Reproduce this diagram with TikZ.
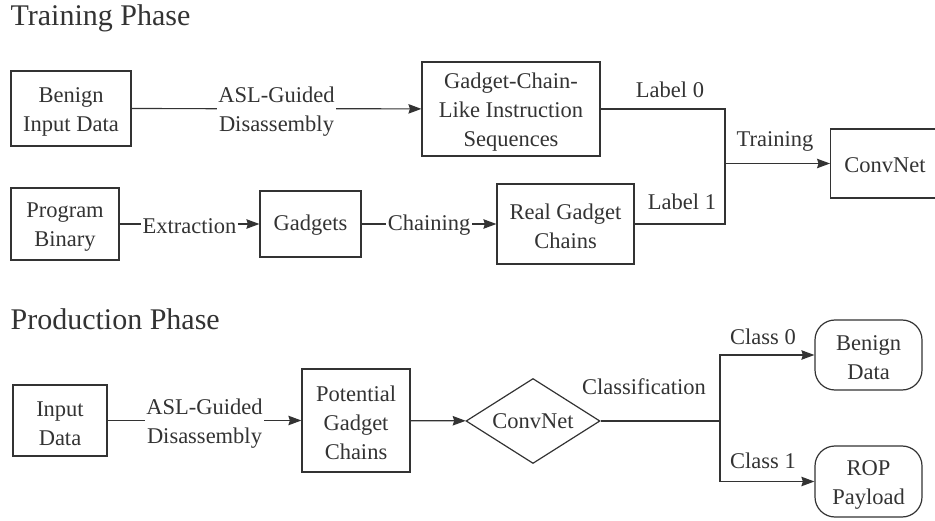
\documentclass[tikz,border=0pt]{standalone}
\usepackage{fontspec}
\setmainfont{Liberation Serif}
\newfontfamily\timesfam{Liberation Serif}
\usetikzlibrary{arrows.meta,shapes.geometric}
\definecolor{inkgrey}{HTML}{333333}
\definecolor{textgrey}{HTML}{333333}
\newcommand{\boxstrut}{\rule{0pt}{21pt}}
\begin{document}
\begin{tikzpicture}[x=1pt, y=-1pt, line width=1.2pt, draw=inkgrey, text=textgrey,
	font=\timesfam\fontsize{22.5}{29}\selectfont,
	box/.style={draw, align=center, inner sep=0pt, execute at begin node={\rule{0pt}{18.5pt}}},
	roundbox/.style={box, rounded corners=20pt},
	decision/.style={draw, diamond, aspect=1.6, inner sep=0pt, minimum width=134pt, minimum height=85pt},
	lbl/.style={fill=white, inner sep=1.5pt, align=center, execute at begin node={\rule{0pt}{18.5pt}}},
	arr/.style={-{Stealth[length=13pt, width=9.5pt, inset=1.5pt]}},
	phase/.style={anchor=base west, inner sep=0pt, font=\timesfam\fontsize{30}{36}\selectfont}]
	\useasboundingbox (0,0) rectangle (935,521);
	% training phase
	\node [phase] (ttl1) at (10,26) {Training Phase};
	\node [box, minimum width=120pt, minimum height=75pt] (benign) at (71,108.5) {\boxstrut Benign\\Input Data};
	\node [box, minimum width=178pt, minimum height=94pt] (gcl) at (511,109) {\boxstrut Gadget-Chain-\\Like Instruction\\Sequences};
	\node [box, minimum width=108pt, minimum height=72pt] (prog) at (65,224) {\boxstrut Program\\Binary};
	\node [box, minimum width=101pt, minimum height=66pt] (gadgets) at (310.5,224) {Gadgets};
	\node [box, minimum width=137pt, minimum height=80pt] (real) at (565.5,224) {\boxstrut Real Gadget\\Chains};
	\node [box, minimum width=115pt, minimum height=69pt, anchor=west] (cnn) at (830,163.5) {\hspace*{-6pt}ConvNet};
	\coordinate (jn) at (725,163.5);
	\draw [arr] (benign) -- node [lbl] {\boxstrut ASL-Guided\\Disassembly} (gcl);
	\draw [arr] (prog) -- node [lbl] {Extraction} (gadgets);
	\draw [arr] (gadgets) -- node [lbl] {Chaining} (real);
	\draw (gcl.east) -| (jn);
	\draw (real.east) -| (jn);
	\draw [arr] (jn) -- (cnn);
	\node (l0) at (670,90) {Label 0};
	\node (l1) at (682,202) {Label 1};
	\node (trn) at (775,141) {Training};
	% production phase
	\node [phase] (ttl2) at (10,330) {Production Phase};
	\node [box, minimum width=94pt, minimum height=71pt] (input) at (60,420.5) {\boxstrut Input\\Data};
	\node [box, minimum width=108pt, minimum height=103pt] (pot) at (356,420.5) {\boxstrut Potential\\Gadget\\Chains};
	\node [decision] (cls) at (533,421) {ConvNet};
	\node [roundbox, minimum width=107pt, minimum height=70pt] (bdata) at (868.5,355) {\boxstrut Benign\\Data};
	\node [roundbox, minimum width=107pt, minimum height=71pt] (rop) at (868.5,481.5) {\boxstrut ROP\\Payload};
	\coordinate (sp) at (720,421);
	\draw [arr] (input) -- node [lbl] {\boxstrut ASL-Guided\\Disassembly} (pot);
	\draw [arr] (pot) -- (cls);
	\draw (cls) -- (sp);
	\draw [arr] (sp) |- (bdata);
	\draw [arr] (sp) |- (rop);
	\node (cl) at (644,387) {Classification};
	\node (c0) at (763,337) {Class 0};
	\node (c1) at (763,461) {Class 1};
\end{tikzpicture}
\end{document}
